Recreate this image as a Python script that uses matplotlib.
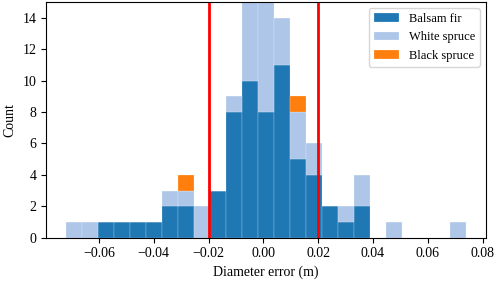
import matplotlib
matplotlib.use('Agg')
import matplotlib.pyplot as plt
import numpy as np

plt.rcParams['font.family'] = ['Liberation Serif', 'DejaVu Serif']
plt.rcParams['font.size'] = 10
plt.rcParams['mathtext.fontset'] = 'stix'

# histogram bins (25 bins between min and max error)
err_min, err_max, n_bins = -0.072, 0.074, 25

# counts per bin
balsam = [0, 0, 1, 1, 1, 1, 2, 2, 0, 3, 8, 10, 8, 11, 5, 4, 2, 1, 2, 0, 0, 0, 0, 0, 0]
white = [1, 1, 0, 0, 0, 0, 1, 1, 2, 0, 1, 6, 8, 3, 3, 2, 0, 1, 2, 0, 1, 0, 0, 0, 1]
black = [0, 0, 0, 0, 0, 0, 0, 1, 0, 0, 0, 0, 0, 0, 1, 0, 0, 0, 0, 0, 0, 0, 0, 0, 0]
labels = ['Balsam fir', 'White spruce', 'Black spruce']
colors = ['#1f77b4', '#aec7e8', '#ff7f0e']
limits = [-0.02, 0.02]

edges = np.linspace(err_min, err_max, n_bins + 1)
centers = (edges[:-1] + edges[1:]) / 2

fig = plt.figure(figsize=(4.98, 2.83), dpi=100)
ax = fig.add_axes([0.0924, 0.160, 0.884, 0.833])
ax.hist([centers, centers, centers], bins=edges,
        weights=[balsam, white, black], stacked=True,
        color=colors, label=labels, edgecolor='white', linewidth=0.15)
for x in limits:
    ax.axvline(x, color='red', linewidth=2)

ax.set_ylim(0, 15)
ax.set_yticks(range(0, 15, 2))
ax.set_xticks(np.arange(-0.06, 0.081, 0.02))
ax.set_xlabel('Diameter error (m)')
ax.set_ylabel('Count')
ax.legend(loc='upper right', fontsize=9)

fig.savefig('out.png', dpi=100)
